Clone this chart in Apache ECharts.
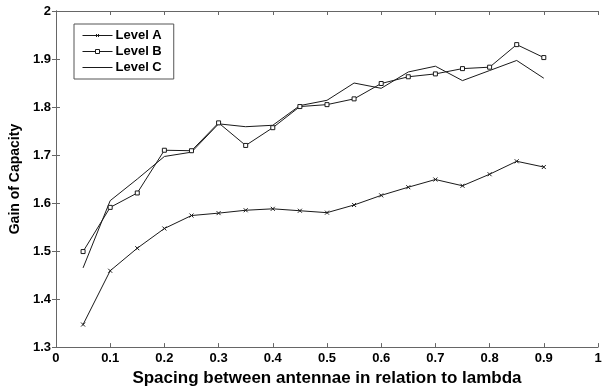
<!DOCTYPE html>
<html>
<head>
<meta charset="utf-8">
<title>Gain of Capacity</title>
<script src="https://cdn.jsdelivr.net/npm/echarts@6/dist/echarts.min.js"></script>
<style>
  html, body { margin: 0; padding: 0; background: #fff; }
  #chart { width: 607px; height: 392px; }
</style>
</head>
<body>
<div id="chart"></div>
<script>
// Antenna spacing (fraction of lambda)
const spacing = [0.05, 0.1, 0.15, 0.2, 0.25, 0.3, 0.35, 0.4, 0.45, 0.5, 0.55, 0.6, 0.65, 0.7, 0.75, 0.8, 0.85, 0.9];

// Capacity gain per level
const levelA = [1.347, 1.459, 1.506, 1.547, 1.574, 1.579, 1.585, 1.588, 1.584, 1.580, 1.596, 1.616, 1.633, 1.649, 1.636, 1.660, 1.687, 1.675];
const levelB = [1.499, 1.591, 1.621, 1.710, 1.709, 1.767, 1.720, 1.757, 1.801, 1.805, 1.817, 1.849, 1.863, 1.869, 1.880, 1.883, 1.930, 1.903];
const levelC = [1.465, 1.605, 1.650, 1.697, 1.706, 1.765, 1.759, 1.762, 1.803, 1.814, 1.850, 1.839, 1.873, 1.885, 1.855, 1.876, 1.897, 1.860];

const seriesNames = ['Level A', 'Level B', 'Level C'];

// Axis tick labels
const xTickLabels = ['0', '0.1', '0.2', '0.3', '0.4', '0.5', '0.6', '0.7', '0.8', '0.9', '1'];
const yTickLabels = ['1.3', '1.4', '1.5', '1.6', '1.7', '1.8', '1.9', '2'];

const pair = (xs, ys) => xs.map((x, i) => [x, ys[i]]);

const lineColor = '#1a1a1a';
const frameColor = '#666';
const fontFamily = '"Liberation Sans", Arial, Helvetica, sans-serif';

const tickIndex = (v, step, start) => Math.round((v - start) / step);

// Legend samples: a short line with the series marker in the middle
const iconA = 'path://M0,2L30,2M13.5,0.5L16.5,3.5M16.5,0.5L13.5,3.5';
const iconB = 'path://M0,2L13,2M17,2L30,2M13,0L17,0L17,4L13,4Z';
const iconC = 'path://M0,0L30,0L30,1L0,1Z';

const chart = echarts.init(document.getElementById('chart'), null, { renderer: 'canvas' });

const labelStyle = { color: '#000', fontFamily, fontWeight: 'bold', fontSize: 13 };
const strokeOnly = { color: 'none', borderColor: lineColor, borderWidth: 1 };

chart.setOption({
  animation: false,
  backgroundColor: '#fff',
  grid: { left: 53, right: 9, top: 11, bottom: 33, containLabel: false },
  legend: {
    orient: 'vertical',
    left: 74,
    top: 24,
    width: 108,
    padding: [5, 12, 5, 6],
    itemGap: 3,
    itemWidth: 30,
    itemHeight: 13,
    borderColor: '#555',
    borderWidth: 1,
    backgroundColor: '#fff',
    data: [
      { name: seriesNames[0], icon: iconA, itemStyle: strokeOnly },
      { name: seriesNames[1], icon: iconB, itemStyle: { color: '#fff', borderColor: lineColor, borderWidth: 1 } },
      { name: seriesNames[2], icon: iconC, itemStyle: { color: lineColor, borderWidth: 0 } }
    ],
    textStyle: { color: '#000', fontFamily, fontWeight: 'bold', fontSize: 13, padding: [0, 0, 0, -2] }
  },
  xAxis: [
    {
      type: 'value',
      min: 0, max: 1, interval: 0.1,
      name: 'Spacing between antennae in relation to lambda',
      nameLocation: 'middle',
      nameGap: 20,
      nameTextStyle: { color: '#000', fontFamily, fontWeight: 'bold', fontSize: 17 },
      axisLine: { show: true, lineStyle: { color: frameColor, width: 1 } },
      axisTick: { show: true, inside: true, length: 4, lineStyle: { color: frameColor } },
      axisLabel: {
        ...labelStyle, margin: 5,
        formatter: v => xTickLabels[tickIndex(v, 0.1, 0)]
      },
      splitLine: { show: false }
    },
    {
      type: 'value', position: 'top',
      min: 0, max: 1, interval: 0.1,
      axisLine: { show: true, lineStyle: { color: frameColor, width: 1 } },
      axisTick: { show: true, inside: true, length: 4, lineStyle: { color: frameColor } },
      axisLabel: { show: false },
      splitLine: { show: false }
    }
  ],
  yAxis: [
    {
      type: 'value',
      min: 1.3, max: 2, interval: 0.1,
      name: 'Gain of Capacity',
      nameLocation: 'middle',
      nameGap: 22,
      nameTextStyle: { color: '#000', fontFamily, fontWeight: 'bold', fontSize: 14 },
      axisLine: { show: true, lineStyle: { color: frameColor, width: 1 } },
      axisTick: { show: true, inside: true, length: 4, lineStyle: { color: frameColor } },
      axisLabel: {
        ...labelStyle, margin: 5,
        formatter: v => yTickLabels[tickIndex(v, 0.1, 1.3)]
      },
      splitLine: { show: false }
    },
    {
      type: 'value', position: 'right',
      min: 1.3, max: 2, interval: 0.1,
      axisLine: { show: true, lineStyle: { color: frameColor, width: 1 } },
      axisTick: { show: true, inside: true, length: 4, lineStyle: { color: frameColor } },
      axisLabel: { show: false },
      splitLine: { show: false }
    }
  ],
  series: [
    {
      name: seriesNames[0],
      type: 'line',
      data: pair(spacing, levelA),
      symbol: 'path://M0,0L10,10M10,0L0,10',
      symbolSize: 4,
      showAllSymbol: true,
      lineStyle: { color: lineColor, width: 1 },
      itemStyle: strokeOnly
    },
    {
      name: seriesNames[1],
      type: 'line',
      data: pair(spacing, levelB),
      symbol: 'rect',
      symbolSize: 4,
      showAllSymbol: true,
      lineStyle: { color: lineColor, width: 1 },
      itemStyle: { color: '#fff', borderColor: lineColor, borderWidth: 1 }
    },
    {
      name: seriesNames[2],
      type: 'line',
      data: pair(spacing, levelC),
      symbol: 'none',
      lineStyle: { color: lineColor, width: 1 },
      itemStyle: { color: lineColor }
    }
  ]
});
</script>
</body>
</html>
